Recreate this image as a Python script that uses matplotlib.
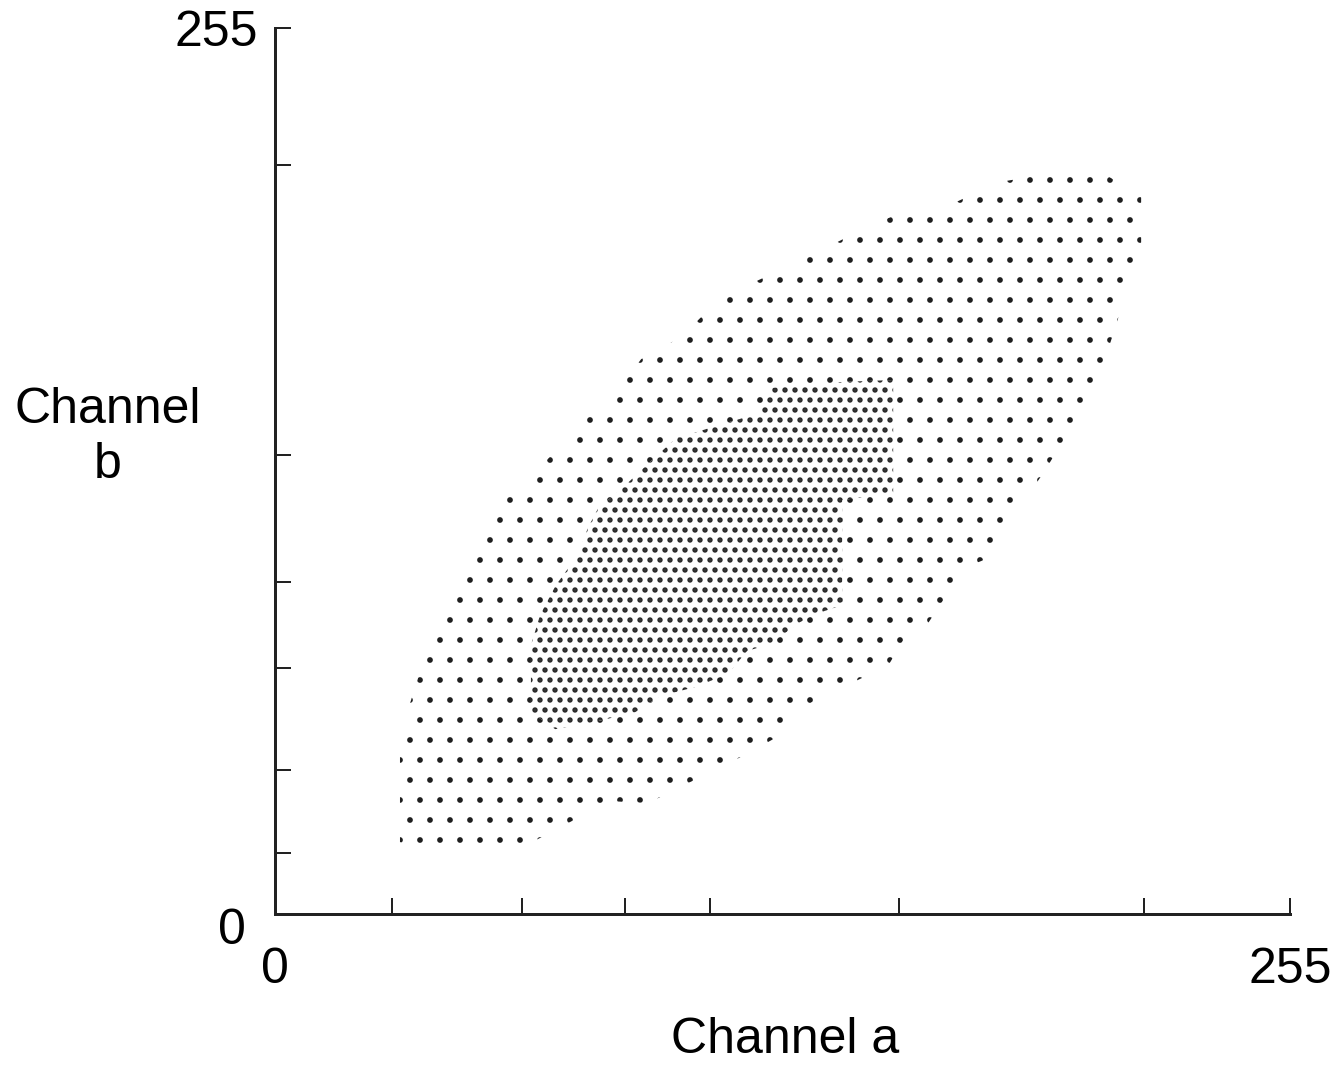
import matplotlib
matplotlib.use("Agg")
import matplotlib.pyplot as plt
from matplotlib.transforms import ScaledTranslation

plt.rcParams['font.family'] = ['Liberation Sans', 'DejaVu Sans']

# outline of the sparse dot region (channel a, channel b)
outer_a = [31.4, 31.4, 38.9, 59.0, 69.1, 79.1, 84.2, 93.7, 103.8, 113.3, 123.4, 128.9,
           133.4, 148.5, 154.0, 158.5, 163.6, 168.6, 173.1, 178.1, 183.2, 188.2, 193.0,
           198.0, 203.0, 208.3, 212.3, 217.6, 217.6, 207.3, 196.7, 181.7, 171.1, 156.3,
           146.2, 136.4, 126.9, 121.4, 111.6, 102.0, 92.0, 86.7, 76.6, 67.1, 57.0, 52.0,
           47.0, 42.0, 37.2, 31.4]
outer_b = [49.5, 20.7, 17.6, 17.6, 23.3, 29.6, 32.5, 31.9, 37.7, 42.9, 49.2, 52.7,
           60.1, 68.5, 71.4, 80.0, 82.9, 91.5, 99.6, 101.9, 110.5, 118.8, 126.9,
           136.1, 144.7, 158.8, 173.2, 186.5, 206.3, 213.8, 213.5, 210.6, 204.9, 201.4,
           196.3, 190.5, 185.3, 182.4, 177.0, 166.0, 159.7, 151.7, 140.7, 129.2, 118.6, 104.7,
           96.1, 87.8, 72.5, 51.5]

# outline of the dense core
inner_a = [64.3, 64.3, 70.4, 80.4, 90.5, 96.7, 105.5, 113.8, 118.6, 124.4, 131.9, 135.7,
           142.5, 142.5, 155.3, 155.3, 142.0, 124.4, 121.9, 110.6, 100.5, 94.7, 86.7,
           81.2, 78.6, 76.1, 70.6, 66.6]
inner_b = [77.4, 58.1, 53.2, 55.3, 58.1, 62.7, 65.3, 69.1, 75.7, 77.7, 84.0, 86.3,
           88.9, 119.1, 121.2, 153.7, 153.1, 151.4, 144.2, 140.4, 136.7, 130.6, 122.0,
           116.8, 111.1, 103.3, 94.7, 86.0]

xticks = [0, 29.4, 62.1, 87.9, 109.3, 156.8, 218.3, 255]
yticks = [0, 17.6, 41.4, 70.8, 95.5, 132.1, 215.5, 255]

fig = plt.figure(figsize=(1338 / 120, 1065 / 120), dpi=120)
ax = fig.add_axes([275 / 1338, 1 - 914 / 1065, 1015 / 1338, 886 / 1065])

with plt.rc_context({'hatch.linewidth': 1.0}):
    ax.fill(outer_a, outer_b, facecolor='none', edgecolor='#1e1e1e', hatch='.', linewidth=0)
with plt.rc_context({'hatch.linewidth': 2.0}):
    ax.fill(inner_a, inner_b, facecolor='white', edgecolor='#2a2a2a', hatch='..', linewidth=0)

ax.set_xlim(0, 255)
ax.set_ylim(0, 255)
for s in ['top', 'right']:
    ax.spines[s].set_visible(False)
for s in ['left', 'bottom']:
    ax.spines[s].set_linewidth(1.8)
    ax.spines[s].set_color('#222222')

ax.set_xticks(xticks)
ax.set_xticklabels(['0'] + [''] * (len(xticks) - 2) + ['255'])
ax.set_yticks(yticks)
ax.set_yticklabels(['0'] + [''] * (len(yticks) - 2) + ['255'])
ax.tick_params(direction='in', length=9.5, width=1.2, color='#222222',
               labelsize=30)
ax.tick_params(axis='x', pad=20)
ax.tick_params(axis='y', pad=10)

# small nudge of the lower y label as in the original
ylab = ax.get_yticklabels()
ylab[0].set_transform(ylab[0].get_transform() + ScaledTranslation(-12 / 120, -12 / 120, fig.dpi_scale_trans))

ax.set_xlabel('Channel a', fontsize=30, va='center')
ax.xaxis.set_label_coords(0.5025, -0.142)
ax.set_ylabel('Channel\nb', fontsize=30, rotation=0, ha='center', va='center', linespacing=1.25)
ax.yaxis.set_label_coords(-0.1645, 0.538)

fig.savefig('out.png', dpi=120)
